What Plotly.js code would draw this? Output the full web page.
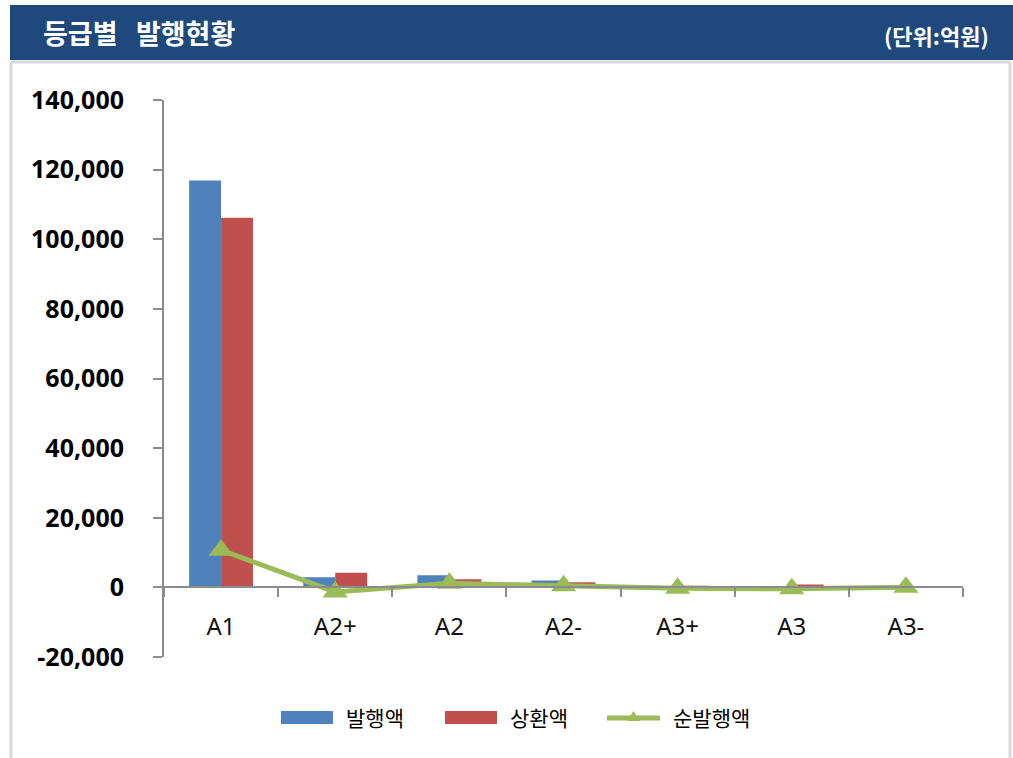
<!DOCTYPE html>
<html>
<head>
<meta charset="utf-8">
<script src="https://cdn.plot.ly/plotly-3.0.1.min.js"></script>
<style>html,body{margin:0;padding:0;background:#fff;}#chart{width:1013px;height:758px;}</style>
</head>
<body>
<div id="chart"></div>
<script>
const categories = ['A1', 'A2+', 'A2', 'A2-', 'A3+', 'A3', 'A3-'];
const issueAmt = [116900, 2900, 3450, 2000, 200, 400, 250];
const redeemAmt = [106200, 4200, 2300, 1500, 450, 800, 200];
const netIssue = [10700, -1300, 1150, 500, -250, -400, 50];
const seriesNames = ['발행액', '상환액', '순발행액'];
const yTickValues = [-20000, 0, 20000, 40000, 60000, 80000, 100000, 120000, 140000];
const yTickLabels = ['-20,000', '0', '20,000', '40,000', '60,000', '80,000', '100,000', '120,000', '140,000'];
const chartTitle = '등급별&nbsp;&nbsp;&nbsp;발행현황';
const unitText = '(단위:억원)';

const W = 1013, H = 758;
const L = 164, R = 963, T = 100, B = 657;
const px = x => (x - L) / (R - L);
const py = y => (B - y) / (B - T);

const BLUE = '#4F81BD', RED = '#C0504D', GREEN = '#9BBB59';
const KR = '"Noto Sans CJK KR", "Noto Sans", sans-serif';

const traces = [
  {type: 'bar', x: categories, y: issueAmt, name: seriesNames[0], marker: {color: BLUE, line: {width: 0}}, showlegend: false},
  {type: 'bar', x: categories, y: redeemAmt, name: seriesNames[1], marker: {color: RED, line: {width: 0}}, showlegend: false},
  {type: 'scatter', mode: 'lines+markers', x: categories, y: netIssue, name: seriesNames[2],
   line: {color: GREEN, width: 5}, marker: {symbol: 'triangle-up', size: 22, color: GREEN}, showlegend: false}
];

const shapes = [
  {type: 'rect', xref: 'paper', yref: 'paper', x0: px(10), x1: px(1013), y0: py(60), y1: py(5), fillcolor: '#1F497D', line: {width: 0}, layer: 'below'},
  {type: 'line', xref: 'paper', yref: 'paper', x0: px(11), x1: px(1010), y0: py(62), y1: py(62), line: {color: '#D9D9D9', width: 3}, layer: 'below'},
  {type: 'line', xref: 'paper', yref: 'paper', x0: px(11), x1: px(11), y0: py(62), y1: py(760), line: {color: '#D9D9D9', width: 3}, layer: 'below'},
  {type: 'line', xref: 'paper', yref: 'paper', x0: px(1010), x1: px(1010), y0: py(62), y1: py(760), line: {color: '#D9D9D9', width: 3}, layer: 'below'},
  {type: 'rect', xref: 'paper', yref: 'paper', x0: px(281), x1: px(333), y0: py(724), y1: py(711), fillcolor: BLUE, line: {width: 0}},
  {type: 'rect', xref: 'paper', yref: 'paper', x0: px(445), x1: px(497), y0: py(724), y1: py(711), fillcolor: RED, line: {width: 0}},
  {type: 'line', xref: 'paper', yref: 'paper', x0: px(607), x1: px(660), y0: py(718), y1: py(718), line: {color: GREEN, width: 5}},
  {type: 'path', xref: 'paper', yref: 'paper',
   path: `M ${px(627)} ${py(721)} L ${px(640)} ${py(721)} L ${px(633.5)} ${py(711)} Z`, fillcolor: GREEN, line: {width: 0}}
];

const annotations = [
  {xref: 'paper', yref: 'paper', x: px(41), y: py(33), xanchor: 'left', yanchor: 'middle', showarrow: false,
   text: '<b>' + chartTitle + '</b>', font: {family: KR, size: 27, color: '#FFFFFF'}},
  {xref: 'paper', yref: 'paper', x: px(991), y: py(35), xanchor: 'right', yanchor: 'middle', showarrow: false,
   text: '<b>' + unitText + '</b>', font: {family: KR, size: 22, color: '#FFFFFF'}},
  {xref: 'paper', yref: 'paper', x: px(344), y: py(717), xanchor: 'left', yanchor: 'middle', showarrow: false,
   text: seriesNames[0], font: {family: KR, size: 21, color: '#000'}},
  {xref: 'paper', yref: 'paper', x: px(508), y: py(717), xanchor: 'left', yanchor: 'middle', showarrow: false,
   text: seriesNames[1], font: {family: KR, size: 21, color: '#000'}},
  {xref: 'paper', yref: 'paper', x: px(671), y: py(717), xanchor: 'left', yanchor: 'middle', showarrow: false,
   text: seriesNames[2], font: {family: KR, size: 21, color: '#000'}}
];

const layout = {
  width: W, height: H,
  margin: {l: L, r: W - R, t: T, b: H - B, pad: 0},
  paper_bgcolor: '#FFFFFF', plot_bgcolor: 'rgba(0,0,0,0)',
  barmode: 'group', bargap: 0.44, bargroupgap: 0,
  showlegend: false,
  xaxis: {
    type: 'category', anchor: 'free', position: 0.125,
    showline: true, linecolor: '#8C8C8C', linewidth: 2,
    ticks: 'outside', tickson: 'boundaries', ticklen: 9, tickcolor: '#8C8C8C', tickwidth: 2,
    ticklabelstandoff: 18,
    tickfont: {family: '"Noto Sans", sans-serif', size: 24, color: '#111'},
    showgrid: false, zeroline: false, fixedrange: true
  },
  yaxis: {
    range: [-20000, 140000], tickmode: 'array', tickvals: yTickValues, ticktext: yTickLabels,
    showline: true, linecolor: '#8C8C8C', linewidth: 2,
    ticks: 'outside', ticklen: 9, tickcolor: '#8C8C8C', tickwidth: 2,
    ticklabelstandoff: 24,
    tickfont: {family: '"Noto Sans", sans-serif', size: 25, color: '#000', weight: 'bold'},
    showgrid: false, zeroline: false, fixedrange: true
  },
  shapes: shapes,
  annotations: annotations
};

Plotly.newPlot('chart', traces, layout, {displayModeBar: false, staticPlot: true});
</script>
</body>
</html>
